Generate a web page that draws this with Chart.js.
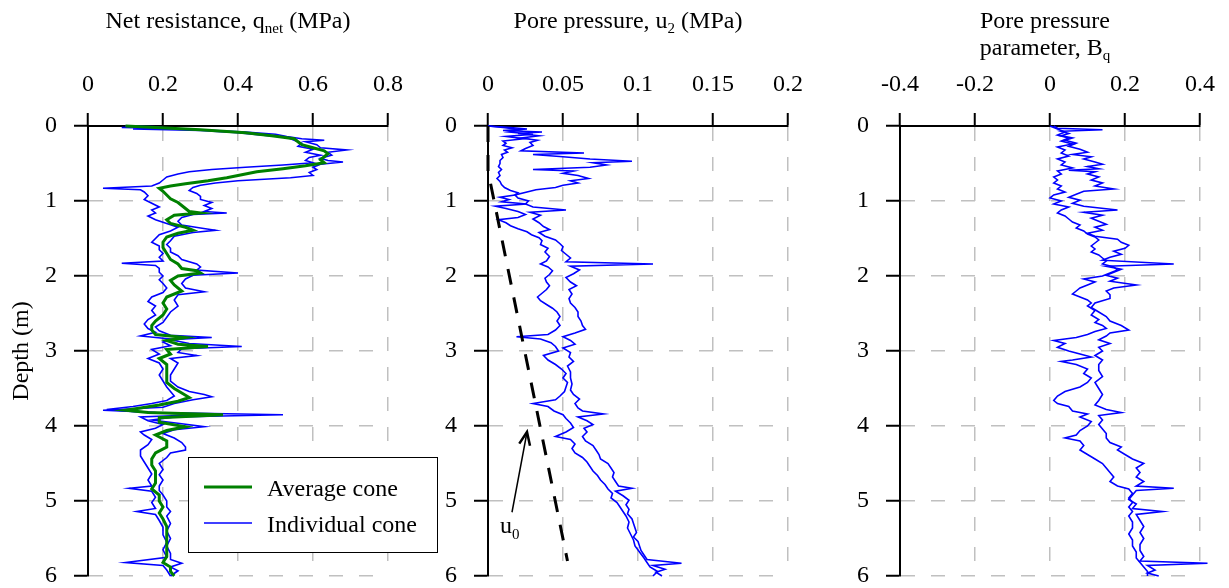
<!DOCTYPE html>
<html>
<head>
<meta charset="utf-8">
<script src="https://cdn.jsdelivr.net/npm/chart.js@4.4.1/dist/chart.umd.min.js"></script>
<style>
  body { margin: 0; background: #fff; overflow: hidden; }
  #wrap { position: relative; width: 1229px; height: 588px; overflow: hidden; font-family: "Liberation Serif", "Times New Roman", serif; color: #000; }
  canvas { position: absolute; left: 0; top: 0; }
  .ttl { position: absolute; font-size: 24px; line-height: 24px; white-space: nowrap; transform: translateX(-50%); }
  .ttl sub { font-size: 15px; vertical-align: baseline; position: relative; top: 5px; }
</style>
</head>
<body>
<div id="wrap">
  <canvas id="c1" width="1229" height="640"></canvas>
  <canvas id="c2" width="1229" height="640"></canvas>
  <canvas id="c3" width="1229" height="640"></canvas>
  <div class="ttl" style="left:228px; top:8px;">Net resistance, q<sub>net</sub> (MPa)</div>
  <div class="ttl" style="left:628px; top:8px;">Pore pressure, u<sub>2</sub> (MPa)</div>
  <div class="ttl" style="left:1045px; top:8px;">Pore pressure</div>
  <div class="ttl" style="left:1045px; top:35px;">parameter, B<sub>q</sub></div>
</div>
<script>
// ticks
const depthTicks = [0, 1, 2, 3, 4, 5, 6];
const depthTickLabels = ["0", "1", "2", "3", "4", "5", "6"];
const qTicks = [0, 0.2, 0.4, 0.6, 0.8];
const qTickLabels = ["0", "0.2", "0.4", "0.6", "0.8"];
const uTicks = [0, 0.05, 0.1, 0.15, 0.2];
const uTickLabels = ["0", "0.05", "0.1", "0.15", "0.2"];
const bTicks = [-0.4, -0.2, 0, 0.2, 0.4];
const bTickLabels = ["-0.4", "-0.2", "0", "0.2", "0.4"];

const legendLabels = ["Average cone", "Individual cone"];

// profiles: [depth (m), value]
const qnetAverage = [[0,0.10],[0.02,0.18],[0.05,0.30],[0.09,0.42],[0.13,0.49],[0.17,0.55],[0.21,0.56],[0.25,0.57],[0.29,0.60],[0.33,0.63],[0.37,0.64],[0.41,0.63],[0.45,0.62],[0.49,0.63],[0.53,0.58],[0.57,0.52],[0.61,0.45],[0.65,0.41],[0.69,0.37],[0.73,0.32],[0.77,0.26],[0.80,0.22],[0.83,0.19],[0.87,0.20],[0.92,0.21],[0.97,0.22],[1.02,0.24],[1.06,0.25],[1.10,0.26],[1.14,0.27],[1.16,0.30],[1.19,0.23],[1.25,0.21],[1.30,0.22],[1.35,0.26],[1.39,0.28],[1.43,0.24],[1.48,0.21],[1.55,0.20],[1.62,0.20],[1.70,0.21],[1.78,0.22],[1.84,0.24],[1.90,0.25],[1.93,0.29],[1.96,0.30],[2.00,0.24],[2.06,0.22],[2.12,0.23],[2.20,0.25],[2.28,0.21],[2.36,0.20],[2.44,0.21],[2.52,0.20],[2.60,0.18],[2.66,0.17],[2.72,0.17],[2.78,0.18],[2.82,0.26],[2.86,0.21],[2.91,0.24],[2.94,0.32],[2.98,0.21],[3.04,0.22],[3.10,0.19],[3.18,0.21],[3.26,0.21],[3.34,0.21],[3.42,0.21],[3.50,0.23],[3.56,0.25],[3.62,0.27],[3.67,0.24],[3.72,0.19],[3.76,0.14],[3.79,0.10],[3.82,0.16],[3.85,0.36],[3.89,0.19],[3.95,0.19],[4.01,0.26],[4.06,0.21],[4.12,0.18],[4.20,0.21],[4.28,0.21],[4.36,0.18],[4.44,0.17],[4.52,0.17],[4.60,0.18],[4.68,0.18],[4.76,0.18],[4.84,0.17],[4.92,0.19],[5.00,0.19],[5.08,0.20],[5.16,0.19],[5.24,0.20],[5.34,0.21],[5.44,0.21],[5.54,0.21],[5.64,0.21],[5.74,0.21],[5.82,0.20],[5.88,0.22],[5.94,0.22],[6.00,0.23]];
const qnetCone1 = [[0,0.10],[0.01,0.19],[0.02,0.09],[0.03,0.20],[0.05,0.30],[0.08,0.42],[0.11,0.50],[0.14,0.53],[0.17,0.57],[0.19,0.63],[0.21,0.58],[0.25,0.61],[0.29,0.62],[0.32,0.69],[0.35,0.64],[0.39,0.65],[0.43,0.62],[0.46,0.64],[0.48,0.68],[0.51,0.62],[0.55,0.60],[0.58,0.61],[0.62,0.59],[0.66,0.60],[0.69,0.54],[0.71,0.47],[0.73,0.40],[0.76,0.34],[0.79,0.30],[0.82,0.28],[0.86,0.27],[0.90,0.29],[0.94,0.30],[0.98,0.30],[1.02,0.33],[1.06,0.31],[1.10,0.33],[1.14,0.31],[1.16,0.37],[1.18,0.28],[1.22,0.25],[1.27,0.24],[1.32,0.25],[1.36,0.30],[1.39,0.34],[1.42,0.28],[1.47,0.23],[1.53,0.22],[1.58,0.21],[1.63,0.22],[1.68,0.22],[1.73,0.24],[1.78,0.25],[1.84,0.29],[1.88,0.30],[1.92,0.29],[1.96,0.40],[1.99,0.28],[2.04,0.26],[2.10,0.25],[2.16,0.26],[2.21,0.31],[2.25,0.24],[2.32,0.23],[2.40,0.24],[2.48,0.22],[2.55,0.21],[2.62,0.20],[2.68,0.18],[2.73,0.19],[2.79,0.22],[2.82,0.33],[2.85,0.22],[2.90,0.27],[2.94,0.41],[2.97,0.25],[3.02,0.24],[3.06,0.29],[3.10,0.22],[3.16,0.24],[3.24,0.23],[3.32,0.22],[3.40,0.22],[3.48,0.24],[3.54,0.27],[3.58,0.31],[3.61,0.33],[3.65,0.28],[3.70,0.23],[3.75,0.20],[3.79,0.04],[3.82,0.18],[3.85,0.52],[3.88,0.23],[3.92,0.17],[3.97,0.25],[4.01,0.31],[4.05,0.23],[4.10,0.20],[4.16,0.23],[4.22,0.25],[4.28,0.26],[4.32,0.26],[4.36,0.22],[4.42,0.21],[4.50,0.19],[4.58,0.20],[4.65,0.19],[4.72,0.20],[4.80,0.19],[4.86,0.19],[4.92,0.20],[5.00,0.21],[5.08,0.21],[5.14,0.22],[5.20,0.21],[5.30,0.22],[5.40,0.21],[5.50,0.22],[5.60,0.21],[5.70,0.22],[5.78,0.22],[5.83,0.25],[5.88,0.22],[5.93,0.24],[6.00,0.22]];
const qnetCone2 = [[0,0.10],[0.02,0.20],[0.04,0.12],[0.06,0.30],[0.09,0.40],[0.12,0.46],[0.15,0.53],[0.19,0.55],[0.23,0.57],[0.27,0.56],[0.31,0.60],[0.35,0.58],[0.39,0.62],[0.42,0.59],[0.46,0.58],[0.49,0.60],[0.52,0.52],[0.55,0.42],[0.58,0.33],[0.61,0.27],[0.64,0.24],[0.68,0.21],[0.72,0.20],[0.76,0.19],[0.80,0.17],[0.83,0.04],[0.85,0.14],[0.88,0.15],[0.93,0.16],[0.98,0.15],[1.03,0.17],[1.08,0.19],[1.12,0.17],[1.16,0.18],[1.20,0.16],[1.25,0.18],[1.30,0.21],[1.35,0.24],[1.40,0.22],[1.45,0.19],[1.50,0.18],[1.55,0.17],[1.60,0.19],[1.65,0.19],[1.70,0.20],[1.75,0.19],[1.80,0.20],[1.83,0.09],[1.86,0.18],[1.90,0.19],[1.95,0.19],[2.00,0.20],[2.05,0.19],[2.10,0.20],[2.16,0.21],[2.22,0.20],[2.28,0.17],[2.34,0.16],[2.40,0.18],[2.46,0.17],[2.52,0.18],[2.58,0.16],[2.64,0.15],[2.70,0.16],[2.75,0.18],[2.80,0.14],[2.84,0.22],[2.88,0.20],[2.93,0.22],[2.98,0.17],[3.04,0.19],[3.10,0.16],[3.16,0.19],[3.24,0.20],[3.32,0.19],[3.40,0.20],[3.48,0.21],[3.54,0.22],[3.60,0.23],[3.66,0.21],[3.70,0.17],[3.74,0.12],[3.78,0.05],[3.81,0.13],[3.85,0.30],[3.88,0.14],[3.93,0.16],[3.98,0.20],[4.03,0.18],[4.08,0.14],[4.12,0.15],[4.18,0.17],[4.25,0.16],[4.32,0.14],[4.40,0.14],[4.48,0.15],[4.56,0.16],[4.64,0.17],[4.72,0.16],[4.80,0.17],[4.83,0.11],[4.87,0.17],[4.95,0.18],[5.02,0.17],[5.10,0.18],[5.14,0.13],[5.18,0.18],[5.26,0.19],[5.35,0.20],[5.45,0.20],[5.55,0.21],[5.65,0.20],[5.75,0.21],[5.82,0.10],[5.86,0.20],[5.92,0.21],[6.00,0.22]];

const u2Cone1 = [[0,0],[0.02,0.015],[0.04,0.026],[0.06,0.010],[0.08,0.036],[0.10,0.020],[0.13,0.034],[0.16,0.022],[0.19,0.033],[0.22,0.028],[0.26,0.030],[0.30,0.025],[0.33,0.022],[0.36,0.064],[0.38,0.030],[0.41,0.050],[0.44,0.068],[0.47,0.096],[0.49,0.070],[0.52,0.079],[0.55,0.068],[0.58,0.030],[0.60,0.057],[0.63,0.050],[0.66,0.060],[0.70,0.067],[0.73,0.055],[0.76,0.060],[0.79,0.050],[0.82,0.045],[0.85,0.032],[0.88,0.026],[0.92,0.018],[0.96,0.020],[1.00,0.027],[1.04,0.025],[1.08,0.030],[1.12,0.052],[1.15,0.028],[1.19,0.035],[1.24,0.030],[1.29,0.034],[1.34,0.037],[1.38,0.041],[1.42,0.034],[1.47,0.038],[1.52,0.045],[1.57,0.048],[1.61,0.050],[1.66,0.049],[1.71,0.052],[1.76,0.055],[1.81,0.052],[1.84,0.110],[1.87,0.055],[1.92,0.061],[1.97,0.057],[2.02,0.052],[2.08,0.055],[2.13,0.059],[2.18,0.054],[2.24,0.056],[2.30,0.054],[2.36,0.055],[2.42,0.058],[2.48,0.060],[2.54,0.060],[2.60,0.062],[2.66,0.063],[2.71,0.065],[2.76,0.058],[2.81,0.050],[2.86,0.055],[2.91,0.058],[2.96,0.050],[3.02,0.055],[3.08,0.054],[3.14,0.057],[3.20,0.053],[3.28,0.055],[3.36,0.055],[3.44,0.056],[3.52,0.055],[3.58,0.057],[3.64,0.061],[3.70,0.058],[3.76,0.060],[3.80,0.063],[3.84,0.077],[3.88,0.060],[3.93,0.066],[3.98,0.070],[4.03,0.064],[4.08,0.066],[4.14,0.063],[4.20,0.065],[4.26,0.070],[4.32,0.072],[4.38,0.074],[4.44,0.075],[4.50,0.080],[4.56,0.082],[4.62,0.084],[4.68,0.083],[4.74,0.085],[4.80,0.087],[4.83,0.096],[4.87,0.085],[4.93,0.090],[4.99,0.094],[5.05,0.092],[5.11,0.094],[5.17,0.093],[5.24,0.096],[5.30,0.097],[5.36,0.098],[5.42,0.099],[5.48,0.097],[5.54,0.100],[5.60,0.101],[5.66,0.102],[5.72,0.104],[5.78,0.106],[5.83,0.129],[5.86,0.110],[5.91,0.118],[5.95,0.112],[6.00,0.116]];
const u2Cone2 = [[0,0],[0.02,0.010],[0.05,0.022],[0.08,0.014],[0.11,0.030],[0.14,0.012],[0.17,0.024],[0.20,0.010],[0.23,0.012],[0.26,0.010],[0.29,0.016],[0.32,0.011],[0.35,0.013],[0.38,0.009],[0.42,0.010],[0.46,0.008],[0.50,0.008],[0.54,0.007],[0.58,0.009],[0.62,0.007],[0.66,0.008],[0.70,0.006],[0.74,0.008],[0.78,0.009],[0.82,0.011],[0.86,0.015],[0.89,0.020],[0.92,0.018],[0.95,0.008],[0.98,0.014],[1.01,0.009],[1.04,0.026],[1.07,0.005],[1.10,0.012],[1.14,0.020],[1.18,0.025],[1.22,0.020],[1.25,0.007],[1.29,0.012],[1.33,0.015],[1.37,0.020],[1.41,0.026],[1.45,0.029],[1.49,0.034],[1.53,0.036],[1.58,0.035],[1.63,0.040],[1.68,0.038],[1.74,0.041],[1.80,0.039],[1.84,0.035],[1.88,0.040],[1.93,0.043],[1.98,0.041],[2.03,0.038],[2.08,0.039],[2.13,0.041],[2.18,0.039],[2.23,0.036],[2.28,0.033],[2.33,0.035],[2.38,0.039],[2.43,0.043],[2.48,0.046],[2.54,0.048],[2.60,0.046],[2.66,0.048],[2.72,0.045],[2.78,0.040],[2.81,0.019],[2.84,0.035],[2.89,0.042],[2.94,0.045],[3.00,0.047],[3.06,0.037],[3.12,0.040],[3.18,0.045],[3.24,0.049],[3.30,0.052],[3.36,0.050],[3.42,0.053],[3.48,0.052],[3.54,0.051],[3.60,0.048],[3.65,0.045],[3.70,0.030],[3.74,0.040],[3.80,0.044],[3.85,0.050],[3.90,0.052],[3.96,0.055],[4.02,0.057],[4.08,0.052],[4.14,0.045],[4.18,0.055],[4.24,0.058],[4.30,0.056],[4.36,0.058],[4.42,0.063],[4.48,0.066],[4.54,0.068],[4.60,0.070],[4.66,0.073],[4.72,0.075],[4.78,0.078],[4.84,0.080],[4.90,0.083],[4.96,0.082],[5.02,0.086],[5.08,0.088],[5.14,0.090],[5.20,0.092],[5.28,0.094],[5.36,0.093],[5.44,0.095],[5.52,0.097],[5.60,0.098],[5.68,0.101],[5.76,0.104],[5.82,0.106],[5.88,0.108],[5.94,0.113],[6.00,0.110]];
const u0Line = [[0,0],[0.6,0],[5.8,0.053]];
const u0ArrowTail = [0.016, 5.15];
const u0ArrowTip = [0.026, 4.08];
const u0LabelAt = [0.008, 5.43];

const bqCone1 = [[0,0.01],[0.03,0.02],[0.05,0.14],[0.07,0.03],[0.10,0.05],[0.13,0.03],[0.16,0.06],[0.19,0.04],[0.23,0.07],[0.27,0.05],[0.31,0.08],[0.35,0.10],[0.38,0.06],[0.41,0.11],[0.44,0.09],[0.48,0.12],[0.51,0.14],[0.54,0.10],[0.57,0.13],[0.59,0.05],[0.61,0.12],[0.64,0.10],[0.68,0.13],[0.72,0.11],[0.76,0.14],[0.80,0.12],[0.84,0.17],[0.87,0.09],[0.91,0.07],[0.95,0.05],[0.99,0.08],[1.03,0.06],[1.07,0.09],[1.12,0.18],[1.15,0.09],[1.19,0.14],[1.23,0.11],[1.27,0.13],[1.31,0.15],[1.35,0.12],[1.39,0.14],[1.43,0.10],[1.47,0.12],[1.51,0.18],[1.55,0.19],[1.59,0.21],[1.63,0.20],[1.67,0.17],[1.71,0.19],[1.75,0.16],[1.79,0.14],[1.84,0.33],[1.87,0.15],[1.91,0.19],[1.95,0.17],[1.99,0.15],[2.03,0.18],[2.07,0.16],[2.12,0.23],[2.16,0.17],[2.20,0.15],[2.25,0.16],[2.30,0.16],[2.36,0.12],[2.42,0.11],[2.48,0.13],[2.54,0.15],[2.60,0.16],[2.66,0.19],[2.72,0.21],[2.76,0.16],[2.80,0.15],[2.85,0.13],[2.90,0.16],[2.95,0.13],[3.00,0.14],[3.06,0.12],[3.12,0.14],[3.18,0.13],[3.26,0.13],[3.34,0.14],[3.42,0.12],[3.50,0.13],[3.58,0.14],[3.66,0.13],[3.72,0.12],[3.78,0.15],[3.82,0.19],[3.86,0.13],[3.92,0.14],[3.98,0.13],[4.04,0.14],[4.10,0.15],[4.16,0.15],[4.22,0.16],[4.28,0.19],[4.32,0.18],[4.38,0.20],[4.44,0.22],[4.50,0.25],[4.56,0.23],[4.62,0.24],[4.68,0.23],[4.74,0.25],[4.80,0.23],[4.83,0.33],[4.86,0.23],[4.92,0.22],[4.98,0.21],[5.04,0.23],[5.10,0.22],[5.14,0.30],[5.18,0.23],[5.26,0.24],[5.34,0.25],[5.42,0.24],[5.50,0.25],[5.58,0.24],[5.66,0.24],[5.74,0.25],[5.80,0.24],[5.83,0.42],[5.86,0.26],[5.92,0.28],[5.96,0.26],[6.00,0.29]];
const bqCone2 = [[0,0.00],[0.04,0.02],[0.08,0.04],[0.12,0.02],[0.16,0.05],[0.20,0.03],[0.24,0.06],[0.28,0.02],[0.32,0.04],[0.36,0.03],[0.40,0.05],[0.44,0.02],[0.48,0.04],[0.52,0.03],[0.56,0.06],[0.60,0.02],[0.64,0.03],[0.68,0.01],[0.72,0.02],[0.76,0.01],[0.80,0.03],[0.84,0.02],[0.88,0.04],[0.92,0.01],[0.96,0.00],[1.00,0.03],[1.04,0.01],[1.08,0.05],[1.12,0.03],[1.16,0.02],[1.20,0.04],[1.24,0.05],[1.28,0.06],[1.32,0.08],[1.36,0.07],[1.40,0.09],[1.44,0.10],[1.48,0.12],[1.52,0.13],[1.56,0.12],[1.60,0.11],[1.64,0.12],[1.68,0.11],[1.72,0.13],[1.76,0.14],[1.80,0.15],[1.84,0.14],[1.88,0.17],[1.92,0.18],[1.96,0.16],[2.00,0.14],[2.04,0.09],[2.08,0.12],[2.12,0.10],[2.16,0.08],[2.20,0.07],[2.24,0.06],[2.28,0.08],[2.32,0.10],[2.36,0.11],[2.40,0.10],[2.46,0.12],[2.52,0.11],[2.58,0.13],[2.62,0.12],[2.66,0.14],[2.70,0.15],[2.74,0.12],[2.78,0.10],[2.82,0.07],[2.86,0.01],[2.90,0.04],[2.95,0.02],[3.00,0.05],[3.04,0.08],[3.08,0.11],[3.12,0.06],[3.14,0.03],[3.18,0.07],[3.24,0.10],[3.30,0.09],[3.36,0.11],[3.42,0.10],[3.48,0.08],[3.54,0.04],[3.60,0.02],[3.66,0.01],[3.70,0.02],[3.74,0.05],[3.80,0.06],[3.84,0.10],[3.88,0.08],[3.94,0.11],[4.00,0.10],[4.06,0.08],[4.12,0.07],[4.16,0.04],[4.20,0.08],[4.26,0.09],[4.32,0.08],[4.38,0.10],[4.44,0.12],[4.50,0.14],[4.56,0.15],[4.62,0.16],[4.68,0.17],[4.74,0.16],[4.80,0.18],[4.84,0.21],[4.90,0.22],[4.96,0.21],[5.02,0.22],[5.08,0.21],[5.14,0.22],[5.20,0.21],[5.28,0.22],[5.36,0.22],[5.44,0.21],[5.52,0.22],[5.60,0.22],[5.68,0.23],[5.76,0.23],[5.82,0.24],[5.88,0.25],[5.94,0.26],[6.00,0.26]];

const FONT = '"Liberation Serif", "Times New Roman", serif';
const BLUE = "#0000ff";
const GREEN = "#008000";
const CANVAS_H = 640;   // taller than the page so label padding does not squeeze the plot

function pts(profile) {
    return profile.map(p => ({ x: p[1], y: p[0] }));
}

function blueLine(profile, label) {
    return { label: label, data: pts(profile), borderColor: BLUE, borderWidth: 1.6, showLine: true, pointRadius: 0, clip: false };
}

// legend box inside panel 1
const legendBox = {
    id: "legendBox",
    afterDatasetsDraw(chart) {
        const ctx = chart.ctx;
        const a = chart.chartArea;
        const x0 = a.left + 100, y0 = a.top + 331, w = 249, h = 95;
        ctx.save();
        ctx.fillStyle = "#fff";
        ctx.fillRect(x0, y0, w, h);
        ctx.strokeStyle = "#000";
        ctx.lineWidth = 1;
        ctx.strokeRect(x0 + 0.5, y0 + 0.5, w, h);
        ctx.font = "24px " + FONT;
        ctx.fillStyle = "#000";
        ctx.textBaseline = "alphabetic";
        legendLabels.forEach((label, i) => {
            const ds = chart.data.datasets.find(d => d.label === label);
            const y = y0 + 30 + i * 36;
            ctx.strokeStyle = ds.borderColor;
            ctx.lineWidth = ds.borderWidth;
            ctx.beginPath();
            ctx.moveTo(x0 + 16, y);
            ctx.lineTo(x0 + 64, y);
            ctx.stroke();
            ctx.fillText(label, x0 + 79, y + 9);
        });
        ctx.restore();
    }
};

// arrow + u0 label in panel 2
const u0Note = {
    id: "u0Note",
    afterDatasetsDraw(chart) {
        const ctx = chart.ctx;
        const sx = chart.scales.x, sy = chart.scales.y;
        const tx = sx.getPixelForValue(u0ArrowTail[0]), ty = sy.getPixelForValue(u0ArrowTail[1]);
        const hx = sx.getPixelForValue(u0ArrowTip[0]), hy = sy.getPixelForValue(u0ArrowTip[1]);
        const ang = Math.atan2(hy - ty, hx - tx);
        ctx.save();
        ctx.strokeStyle = "#000";
        ctx.lineWidth = 1.5;
        ctx.beginPath();
        ctx.moveTo(tx, ty);
        ctx.lineTo(hx, hy);
        ctx.stroke();
        ctx.lineWidth = 2.5;
        ctx.beginPath();
        ctx.moveTo(hx - 14 * Math.cos(ang - 0.4), hy - 14 * Math.sin(ang - 0.4));
        ctx.lineTo(hx, hy);
        ctx.lineTo(hx - 14 * Math.cos(ang + 0.4), hy - 14 * Math.sin(ang + 0.4));
        ctx.stroke();
        const lx = sx.getPixelForValue(u0LabelAt[0]), ly = sy.getPixelForValue(u0LabelAt[1]);
        ctx.fillStyle = "#000";
        ctx.font = "24px " + FONT;
        ctx.fillText("u", lx, ly);
        ctx.font = "15px " + FONT;
        ctx.fillText("0", lx + 12, ly + 6);
        ctx.restore();
    }
};

function makePanel(id, p) {
    return new Chart(document.getElementById(id), {
        type: "scatter",
        data: { datasets: p.datasets },
        options: {
            responsive: false,
            animation: false,
            events: [],
            layout: { padding: { left: 0, top: 0, right: 1229 - p.right, bottom: CANVAS_H - 576 } },
            plugins: { legend: { display: false }, tooltip: { enabled: false } },
            elements: { point: { radius: 0 }, line: { tension: 0 } },
            scales: {
                x: {
                    type: "linear",
                    position: "top",
                    min: p.ticks[0],
                    max: p.ticks[p.ticks.length - 1],
                    afterBuildTicks: s => { s.ticks = p.ticks.map(v => ({ value: v })); },
                    afterFit: s => { s.height = 126; },
                    ticks: {
                        callback: (v, i) => p.labels[i],
                        color: "#000",
                        padding: 14,
                        maxRotation: 0,
                        font: { family: FONT, size: 24, lineHeight: 1.2 }
                    },
                    grid: { color: "#c0c0c0", lineWidth: 1.5, tickLength: 13, tickColor: "#000", tickWidth: 2, tickBorderDash: [] },
                    border: { color: "#000", width: 2, dash: [14, 16] }
                },
                y: {
                    type: "linear",
                    position: "left",
                    reverse: true,
                    min: 0,
                    max: 6,
                    afterBuildTicks: s => { s.ticks = depthTicks.map(v => ({ value: v })); },
                    afterFit: s => { s.width = p.left; },
                    ticks: {
                        callback: (v, i) => depthTickLabels[i],
                        color: "#000",
                        padding: 17,
                        font: { family: FONT, size: 24, lineHeight: 1.0 }
                    },
                    title: {
                        display: !!p.yTitle,
                        text: p.yTitle || "",
                        color: "#000",
                        padding: { top: 7, bottom: 0 },
                        font: { family: FONT, size: 24, lineHeight: 1.2 }
                    },
                    grid: { color: "#c0c0c0", lineWidth: 1.5, tickLength: 14, tickColor: "#000", tickWidth: 2, tickBorderDash: [] },
                    border: { color: "#000", width: 2, dash: [14, 16] }
                }
            }
        },
        plugins: p.plugins || []
    });
}

makePanel("c1", {
    left: 88, right: 388, ticks: qTicks, labels: qTickLabels, yTitle: "Depth (m)",
    datasets: [
        { label: "Average cone", data: pts(qnetAverage), borderColor: GREEN, borderWidth: 3, showLine: true, pointRadius: 0, clip: false },
        blueLine(qnetCone1, "Individual cone"),
        blueLine(qnetCone2, "Individual cone 2")
    ],
    plugins: [legendBox]
});

makePanel("c2", {
    left: 488, right: 788, ticks: uTicks, labels: uTickLabels,
    datasets: [
        { label: "u0", data: pts(u0Line), borderColor: "#000", borderWidth: 3, borderDash: [16, 13], showLine: true, pointRadius: 0, clip: false },
        blueLine(u2Cone1, "Individual cone"),
        blueLine(u2Cone2, "Individual cone 2")
    ],
    plugins: [u0Note]
});

makePanel("c3", {
    left: 900, right: 1200, ticks: bTicks, labels: bTickLabels,
    datasets: [
        blueLine(bqCone1, "Individual cone"),
        blueLine(bqCone2, "Individual cone 2")
    ]
});
</script>
</body>
</html>
